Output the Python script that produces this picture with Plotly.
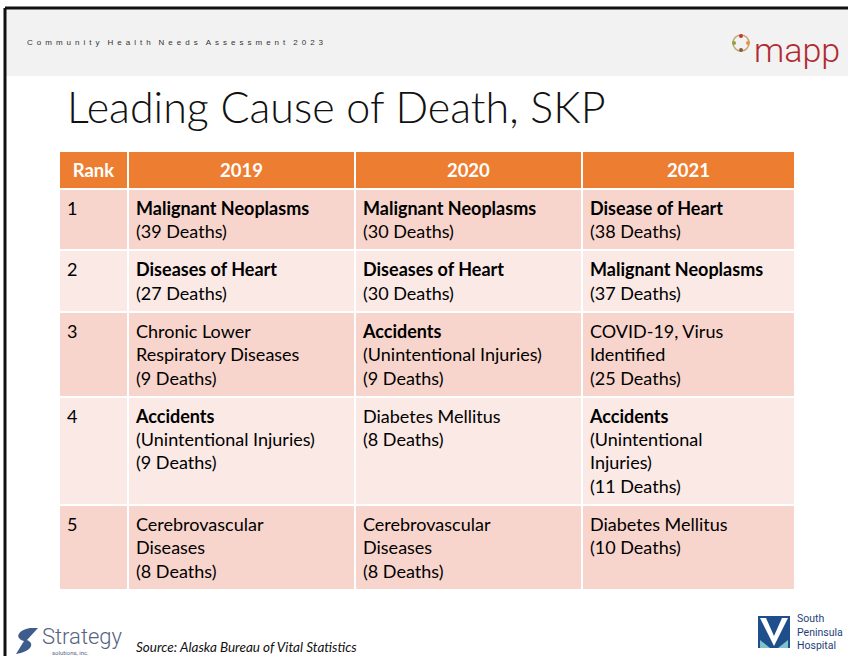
import plotly.graph_objects as go

W, H = 848, 656

# ---------------- data ----------------
ranks = ["1", "2", "3", "4", "5"]
years = ["2019", "2020", "2021"]
causes_2019 = ["Malignant Neoplasms", "Diseases of Heart", "Chronic Lower<br>Respiratory Diseases",
               "Accidents|(Unintentional Injuries)", "Cerebrovascular<br>Diseases"]
deaths_2019 = [39, 27, 9, 9, 8]
bold_2019 = [True, True, False, True, False]
causes_2020 = ["Malignant Neoplasms", "Diseases of Heart", "Accidents|(Unintentional Injuries)",
               "Diabetes Mellitus", "Cerebrovascular<br>Diseases"]
deaths_2020 = [30, 30, 9, 8, 8]
bold_2020 = [True, True, True, False, False]
causes_2021 = ["Disease of Heart", "Malignant Neoplasms", "COVID-19, Virus<br>Identified",
               "Accidents|(Unintentional<br>Injuries)", "Diabetes Mellitus"]
deaths_2021 = [38, 37, 25, 11, 10]
bold_2021 = [True, True, False, True, False]

title = "Leading Cause of Death, SKP"
header_note = "Community Health Needs Assessment 2023"
source = "Source: Alaska Bureau of Vital Statistics"


def fmt(cause, n, bold):
    if "|" in cause:
        head, tail = cause.split("|")
    else:
        head, tail = cause, ""
    head_txt = f"<b>{head}</b>" if bold else head
    parts = [head_txt]
    if tail:
        parts.append(tail)
    parts.append(f"({n} Deaths)")
    return "<br>".join(parts)


col_rank = [f"{r}<br> " for r in ranks]
col2019 = [fmt(c, n, b) for c, n, b in zip(causes_2019, deaths_2019, bold_2019)]
col2020 = [fmt(c, n, b) for c, n, b in zip(causes_2020, deaths_2020, bold_2020)]
col2021 = [fmt(c, n, b) for c, n, b in zip(causes_2021, deaths_2021, bold_2021)]

ORANGE = "#ED7D31"
ODD = "#F8D5CC"
EVEN = "#FBE9E5"
row_fill = [ODD if i % 2 == 0 else EVEN for i in range(len(ranks))]

FONT = "Lato"

fig = go.Figure()

# table
tx0, tx1 = 59, 795
ty0, ty1 = 151, 606
fig.add_trace(go.Table(
    domain=dict(x=[tx0 / W, tx1 / W], y=[1 - ty1 / H, 1 - ty0 / H]),
    columnwidth=[69, 227, 227, 213],
    header=dict(
        values=["<b>Rank</b>"] + [f"<b>{y}</b>" for y in years],
        fill_color=ORANGE,
        line=dict(color="white", width=2),
        font=dict(family=FONT, size=18.5, color="white"),
        align="center",
        height=34,
    ),
    cells=dict(
        values=[col_rank, col2019, col2020, col2021],
        fill_color=[row_fill] * 4,
        line=dict(color="white", width=2),
        font=dict(family=FONT, size=18, color="black"),
        align="left",
        height=30,
    ),
))

# hidden pixel axes for decorations
fig.update_xaxes(range=[0, W], visible=False, fixedrange=True)
fig.update_yaxes(range=[H, 0], visible=False, fixedrange=True)

shapes = [
    # grey header band
    dict(type="rect", x0=5, x1=W, y0=8, y1=76, fillcolor="#F2F2F2", line_width=0, layer="below"),
    # black frame lines
    dict(type="line", x0=5, x1=W, y0=8, y1=8, line=dict(color="#111", width=3)),
    dict(type="line", x0=5, x1=5, y0=8, y1=H, line=dict(color="#111", width=3)),
    # mapp icon
    dict(type="circle", x0=733, x1=749, y0=35, y1=51, line=dict(color="#C9A070", width=1.5)),
    dict(type="circle", x0=739, x1=743, y0=34, y1=38, fillcolor="#C0392B", line_width=0),
    dict(type="circle", x0=732, x1=736, y0=41, y1=45, fillcolor="#8BA53A", line_width=0),
    dict(type="circle", x0=746, x1=750, y0=41, y1=45, fillcolor="#E8923A", line_width=0),
    dict(type="circle", x0=739, x1=743, y0=48, y1=52, fillcolor="#8B5A3C", line_width=0),
    # hospital logo
    dict(type="rect", x0=758, x1=790, y0=616, y1=648, fillcolor="#1F4E8C", line_width=0),
    dict(type="path", path="M 760 618 L 774 646 L 788 618 L 782 618 L 774 636 L 766 618 Z",
         fillcolor="#FFFFFF", line_width=0),
    dict(type="path", path="M 760 640 L 770 648 L 760 648 Z", fillcolor="#7FC3C8", line_width=0),
    dict(type="path", path="M 788 640 L 778 648 L 788 648 Z", fillcolor="#7FC3C8", line_width=0),
    # strategy icon
    dict(type="path", path="M 30 628 C 18 630 14 638 24 641 L 16 654 C 30 652 36 644 27 640 L 38 628 Z",
         fillcolor="#3E5C8C", line_width=0),
]
fig.update_layout(shapes=shapes)

GAP = "\u2002"
spaced = (GAP * 2).join(GAP.join(word) for word in header_note.split(" "))

ann = [
    dict(x=25, y=42, text=spaced, xanchor="left", yanchor="middle",
         font=dict(family="Liberation Sans", size=8, color="#333")),
    dict(x=65, y=106, text=title, xanchor="left", yanchor="middle",
         font=dict(family=FONT, size=43, color="#111", weight=300)),
    dict(x=752, y=50, text="mapp", xanchor="left", yanchor="middle",
         font=dict(family="Roboto", size=34, color="#B02A30", weight=300)),
    dict(x=795, y=632, text="South<br>Peninsula<br>Hospital", xanchor="left", yanchor="middle",
         align="left", font=dict(family="Liberation Sans Narrow, Roboto", size=10.5, color="#1F3F7A")),
    dict(x=40, y=636, text="Strategy", xanchor="left", yanchor="middle",
         font=dict(family="Roboto", size=22, color="#56657F", weight=300)),
    dict(x=50, y=652.5, text="solutions, inc.", xanchor="left", yanchor="middle",
         font=dict(family="Roboto", size=6, color="#56657F")),
    dict(x=134, y=647, text=f"<i>{source}</i>", xanchor="left", yanchor="middle",
         font=dict(family=FONT, size=13.5, color="#111")),
]
for a in ann:
    a.update(xref="x", yref="y", showarrow=False)
fig.update_layout(annotations=ann)

fig.update_layout(
    width=W, height=H,
    margin=dict(l=0, r=0, t=0, b=0),
    paper_bgcolor="white",
    plot_bgcolor="rgba(0,0,0,0)",
    xaxis=dict(domain=[0, 1]),
    yaxis=dict(domain=[0, 1]),
    showlegend=False,
)

fig.write_html("out.html", config={"displayModeBar": False},
               post_script="document.body.style.margin='0';document.body.style.padding='0';")
